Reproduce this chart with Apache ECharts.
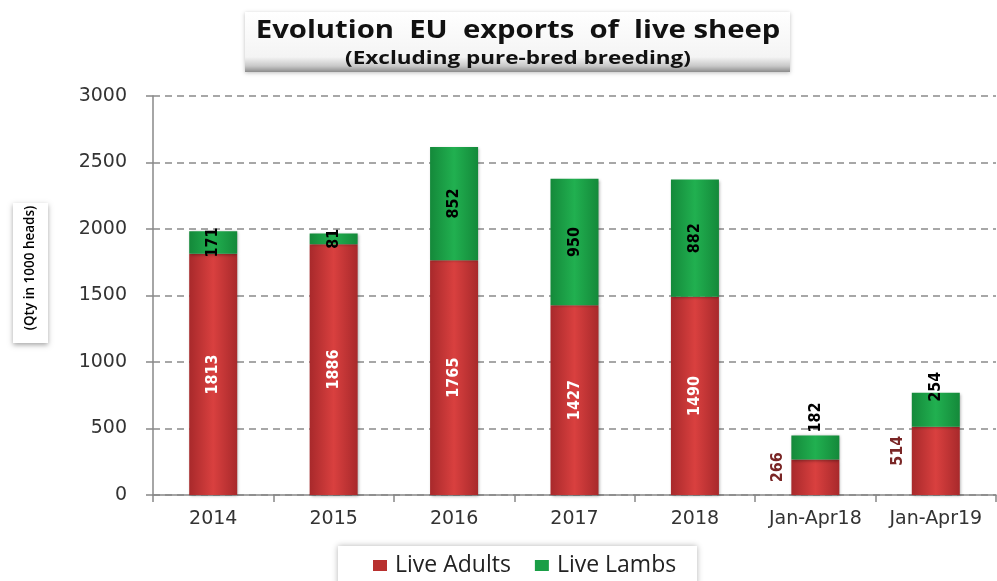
<!DOCTYPE html>
<html>
<head>
<meta charset="utf-8">
<script src="https://cdn.jsdelivr.net/npm/echarts@6/dist/echarts.min.js"></script>
<style>
html,body{margin:0;padding:0;background:#fff;}
#chart{width:997px;height:581px;}
</style>
</head>
<body>
<div id="chart"></div>
<script>
var categories = ['2014', '2015', '2016', '2017', '2018', 'Jan-Apr18', 'Jan-Apr19'];
var liveAdults = [1813, 1886, 1765, 1427, 1490, 266, 514];
var liveLambs = [171, 81, 852, 950, 882, 182, 254];
var yTicks = [0, 500, 1000, 1500, 2000, 2500, 3000];

var chart = echarts.init(document.getElementById('chart'));

function barGrad(edge, mid) {
  return new echarts.graphic.LinearGradient(0, 0, 1, 0, [
    {offset: 0, color: edge}, {offset: 0.5, color: mid}, {offset: 1, color: edge}
  ]);
}
var redFill = barGrad('#a8292b', '#d9403f');
var greenFill = barGrad('#14893a', '#21b050');
var valFont = '"Liberation Sans Narrow","DejaVu Sans Condensed","Liberation Sans",sans-serif';
// label placement styling for the two partial-year bars (outside labels)
var topLabelDistance = {5: 3, 6: -9};

var adultData = liveAdults.map(function (v, i) {
  var outside = i >= 5;
  return {
    value: v,
    label: outside ? {
      position: 'left', rotate: 90, align: 'center', verticalAlign: 'bottom',
      distance: 6, color: '#7a2626', offset: [10, 0]
    } : {
      position: 'inside', rotate: 90, color: '#ffffff'
    }
  };
});
var lambData = liveLambs.map(function (v, i) {
  var outside = i >= 5;
  return {
    value: v,
    label: outside ? {
      position: 'top', rotate: 90, align: 'left', verticalAlign: 'middle',
      distance: topLabelDistance[i], color: '#000'
    } : {
      position: 'inside', rotate: 90, color: '#000'
    }
  };
});

var option = {
  animation: false,
  backgroundColor: '#fff',
  grid: {left: 153, right: 1, top: 96, bottom: 86, containLabel: false},
  legend: {
    data: [
      {name: 'Live Adults', itemStyle: {color: '#b8302f'}},
      {name: 'Live Lambs', itemStyle: {color: '#1a9e46'}}
    ],
    left: 368, top: 549,
    itemWidth: 14, itemHeight: 11, itemGap: 24,
    icon: 'rect',
    textStyle: {fontFamily: '"Open Sans",sans-serif', fontSize: 23, color: '#222', padding: [0, 0, 0, 3]}
  },
  xAxis: {
    type: 'category',
    data: categories,
    axisLine: {lineStyle: {color: '#888', width: 1.5}},
    axisTick: {show: true, alignWithLabel: false, length: 7, lineStyle: {color: '#888', width: 1.5}},
    axisLabel: {color: '#333', fontSize: 19, fontFamily: '"DejaVu Sans",sans-serif', margin: 15, interval: 0, hideOverlap: false}
  },
  yAxis: {
    type: 'value',
    min: yTicks[0], max: yTicks[yTicks.length - 1], interval: 500,
    axisLine: {show: true, lineStyle: {color: '#888', width: 1.5}},
    axisTick: {show: true, length: 7, lineStyle: {color: '#888', width: 1.5}},
    axisLabel: {
      color: '#333', fontSize: 19, fontFamily: '"DejaVu Sans",sans-serif', margin: 26,
      formatter: function (v) { return String(v); }
    },
    splitLine: {show: true, lineStyle: {color: '#8a8a8a', width: 1.6, type: [7, 5]}}
  },
  series: [
    {
      name: 'Live Adults', type: 'bar', stack: 'total', barWidth: 48,
      data: adultData,
      itemStyle: {color: redFill, shadowBlur: 3, shadowColor: 'rgba(0,0,0,0.35)', shadowOffsetX: 1, shadowOffsetY: 1},
      label: {show: true, fontFamily: valFont, fontWeight: 'bold', fontSize: 16}
    },
    {
      name: 'Live Lambs', type: 'bar', stack: 'total', barWidth: 48,
      data: lambData,
      itemStyle: {color: greenFill, shadowBlur: 3, shadowColor: 'rgba(0,0,0,0.35)', shadowOffsetX: 1, shadowOffsetY: 1},
      label: {show: true, fontFamily: valFont, fontWeight: 'bold', fontSize: 16}
    }
  ],
  graphic: [
    {
      type: 'rect', left: 245, top: 12, z: 0,
      shape: {width: 545, height: 60},
      style: {
        fill: new echarts.graphic.LinearGradient(0, 0, 0, 1, [
          {offset: 0, color: '#ffffff'}, {offset: 0.75, color: '#f4f4f4'},
          {offset: 0.9, color: '#c8c8c8'}, {offset: 1, color: '#8c8c8c'}
        ]),
        shadowBlur: 4, shadowColor: 'rgba(0,0,0,0.25)', shadowOffsetY: 1
      }
    },
    {
      type: 'text', z: 2,
      x: 518, y: 31, scaleX: 1.17,
      style: {
        text: 'Evolution  EU  exports  of  live sheep',
        fontFamily: '"Open Sans",sans-serif', fontWeight: 'bold', fontSize: 25,
        fill: '#111', align: 'center', verticalAlign: 'middle'
      }
    },
    {
      type: 'text', z: 2,
      x: 518, y: 59, scaleX: 1.25,
      style: {
        text: '(Excluding pure-bred breeding)',
        fontFamily: '"Open Sans",sans-serif', fontWeight: 'bold', fontSize: 18,
        fill: '#111', align: 'center', verticalAlign: 'middle'
      }
    },
    {
      type: 'rect', left: 13, top: 203, z: 0,
      shape: {width: 35, height: 140},
      style: {fill: '#fff', shadowBlur: 5, shadowColor: 'rgba(0,0,0,0.35)', shadowOffsetY: 2}
    },
    {
      type: 'text', z: 2,
      x: 30, y: 268, rotation: Math.PI / 2,
      style: {
        text: '(Qty in 1000 heads)',
        fontFamily: '"Open Sans",sans-serif', fontSize: 13.5, fontWeight: 600,
        fill: '#000', align: 'center', verticalAlign: 'middle'
      }
    },
    {
      type: 'rect', left: 338, top: 546, z: -1,
      shape: {width: 359, height: 40},
      style: {fill: '#fff', shadowBlur: 6, shadowColor: 'rgba(0,0,0,0.3)'}
    }
  ]
};
chart.setOption(option);
</script>
</body>
</html>
